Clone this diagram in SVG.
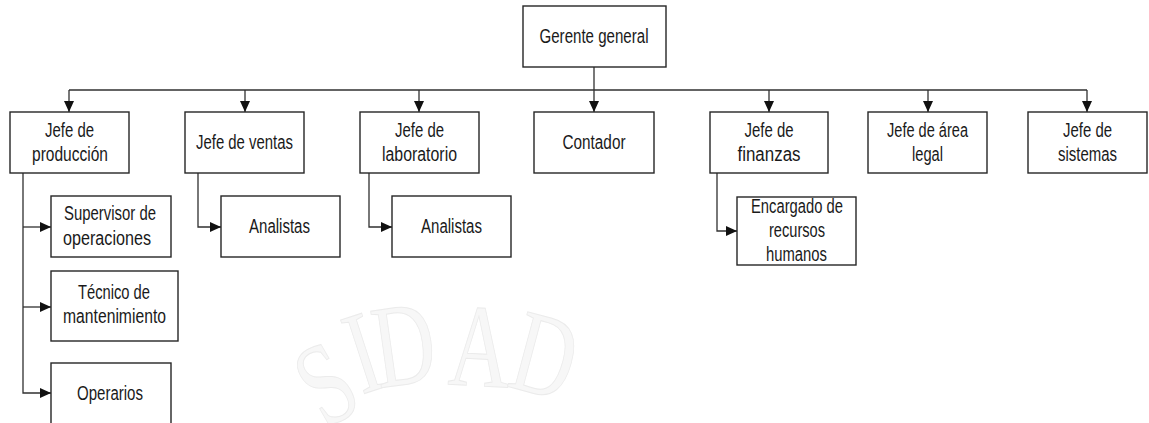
<svg xmlns="http://www.w3.org/2000/svg" width="1149" height="423" viewBox="0 0 1149 423">
  <style>
    .box { fill: #ffffff; stroke: #262626; stroke-width: 1.4; }
    .lbl { font-family: "Liberation Sans", Arial, sans-serif; font-size: 20px; fill: #1a1a1a; text-anchor: middle; }
    .wire { fill: none; stroke: #303030; stroke-width: 1.3; }
    .wm { font-family: "Liberation Serif", serif; font-size: 118px; fill: #f7f7f7; stroke: #ebebeb; stroke-width: 1; text-anchor: middle; }
  </style>
  <defs>
    <marker id="arrow" markerUnits="userSpaceOnUse" markerWidth="11" markerHeight="10" refX="11" refY="5" orient="auto">
      <path d="M0,0 L11,5 L0,10 Z" fill="#111111"/>
    </marker>
  </defs>

  <rect width="1149" height="423" fill="#ffffff"/>

  <!-- faint seal lettering in the background -->
  <g id="watermark">
    <text class="wm" transform="translate(326,384) rotate(-30) scale(0.72,1)" y="39">S</text>
    <text class="wm" transform="translate(363,353) rotate(-18) scale(0.72,1)" y="39">I</text>
    <text class="wm" transform="translate(404,345) rotate(-8) scale(0.72,1)" y="39">D</text>
    <text class="wm" transform="translate(480,347) rotate(3) scale(0.72,1)" y="39">A</text>
    <text class="wm" transform="translate(545,356) rotate(15) scale(0.72,1)" y="39">D</text>
  </g>

  <!-- connectors -->
  <g id="connectors">
    <path class="wire" d="M594,67 V112" marker-end="url(#arrow)"/>
    <path class="wire" d="M69,90 H1087"/>
    <path class="wire" d="M69,90 V112" marker-end="url(#arrow)"/>
    <path class="wire" d="M245,90 V112" marker-end="url(#arrow)"/>
    <path class="wire" d="M419,90 V112" marker-end="url(#arrow)"/>
    <path class="wire" d="M769,90 V112" marker-end="url(#arrow)"/>
    <path class="wire" d="M928,90 V112" marker-end="url(#arrow)"/>
    <path class="wire" d="M1087,90 V112" marker-end="url(#arrow)"/>
    <path class="wire" d="M23,173 V393 H51" marker-end="url(#arrow)"/>
    <path class="wire" d="M23,227 H51" marker-end="url(#arrow)"/>
    <path class="wire" d="M23,307 H51" marker-end="url(#arrow)"/>
    <path class="wire" d="M198,173 V227 H221" marker-end="url(#arrow)"/>
    <path class="wire" d="M369,173 V227 H392" marker-end="url(#arrow)"/>
    <path class="wire" d="M717,173 V231 H737" marker-end="url(#arrow)"/>
  </g>

  <g id="gerente-general">
    <rect class="box" x="523" y="6" width="143" height="61"/>
    <text class="lbl" x="594" y="43" textLength="109" lengthAdjust="spacingAndGlyphs">Gerente general</text>
  </g>

  <g id="jefe-produccion">
    <rect class="box" x="10" y="112" width="119" height="61"/>
    <text class="lbl" x="69.5" y="137" textLength="49" lengthAdjust="spacingAndGlyphs">Jefe de</text>
    <text class="lbl" x="70" y="161" textLength="76" lengthAdjust="spacingAndGlyphs">producción</text>
  </g>

  <g id="jefe-ventas">
    <rect class="box" x="185" y="112" width="119" height="61"/>
    <text class="lbl" x="244.5" y="149" textLength="97" lengthAdjust="spacingAndGlyphs">Jefe de ventas</text>
  </g>

  <g id="jefe-laboratorio">
    <rect class="box" x="360" y="112" width="119" height="61"/>
    <text class="lbl" x="419.5" y="137" textLength="49" lengthAdjust="spacingAndGlyphs">Jefe de</text>
    <text class="lbl" x="419.5" y="161" textLength="75" lengthAdjust="spacingAndGlyphs">laboratorio</text>
  </g>

  <g id="contador">
    <rect class="box" x="534" y="112" width="120" height="61"/>
    <text class="lbl" x="594" y="149" textLength="63" lengthAdjust="spacingAndGlyphs">Contador</text>
  </g>

  <g id="jefe-finanzas">
    <rect class="box" x="710" y="112" width="118" height="61"/>
    <text class="lbl" x="769" y="137" textLength="49" lengthAdjust="spacingAndGlyphs">Jefe de</text>
    <text class="lbl" x="769" y="161" textLength="63" lengthAdjust="spacingAndGlyphs">finanzas</text>
  </g>

  <g id="jefe-area-legal">
    <rect class="box" x="868" y="112" width="119" height="61"/>
    <text class="lbl" x="927.5" y="137" textLength="81" lengthAdjust="spacingAndGlyphs">Jefe de área</text>
    <text class="lbl" x="927.5" y="161" textLength="31" lengthAdjust="spacingAndGlyphs">legal</text>
  </g>

  <g id="jefe-sistemas">
    <rect class="box" x="1028" y="112" width="119" height="61"/>
    <text class="lbl" x="1087.5" y="137" textLength="49" lengthAdjust="spacingAndGlyphs">Jefe de</text>
    <text class="lbl" x="1087.5" y="161" textLength="59" lengthAdjust="spacingAndGlyphs">sistemas</text>
  </g>

  <g id="supervisor-operaciones">
    <rect class="box" x="51" y="196" width="120" height="61"/>
    <text class="lbl" x="110" y="220" textLength="92" lengthAdjust="spacingAndGlyphs">Supervisor de</text>
    <text class="lbl" x="107" y="245" textLength="88" lengthAdjust="spacingAndGlyphs">operaciones</text>
  </g>

  <g id="tecnico-mantenimiento">
    <rect class="box" x="51" y="271" width="127" height="70"/>
    <text class="lbl" x="114" y="299" textLength="72" lengthAdjust="spacingAndGlyphs">Técnico de</text>
    <text class="lbl" x="114.5" y="323" textLength="103" lengthAdjust="spacingAndGlyphs">mantenimiento</text>
  </g>

  <g id="operarios">
    <rect class="box" x="51" y="363" width="120" height="64"/>
    <text class="lbl" x="110" y="400" textLength="66" lengthAdjust="spacingAndGlyphs">Operarios</text>
  </g>

  <g id="analistas-ventas">
    <rect class="box" x="221" y="196" width="119" height="61"/>
    <text class="lbl" x="279.5" y="233" textLength="61" lengthAdjust="spacingAndGlyphs">Analistas</text>
  </g>

  <g id="analistas-laboratorio">
    <rect class="box" x="392" y="196" width="119" height="61"/>
    <text class="lbl" x="451.5" y="233" textLength="61" lengthAdjust="spacingAndGlyphs">Analistas</text>
  </g>

  <g id="encargado-rrhh">
    <rect class="box" x="737" y="197" width="119" height="68"/>
    <text class="lbl" x="797" y="213" textLength="92" lengthAdjust="spacingAndGlyphs">Encargado de</text>
    <text class="lbl" x="797" y="237" textLength="56" lengthAdjust="spacingAndGlyphs">recursos</text>
    <text class="lbl" x="796.5" y="261" textLength="61" lengthAdjust="spacingAndGlyphs">humanos</text>
  </g>
</svg>
